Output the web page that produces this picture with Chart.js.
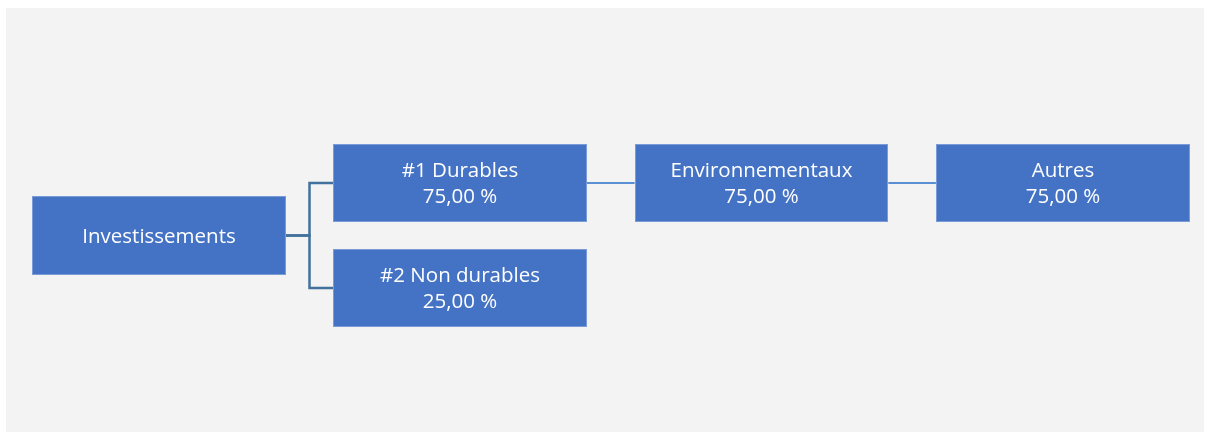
<!DOCTYPE html>
<html>
<head>
<meta charset="utf-8">
<script src="https://cdn.jsdelivr.net/npm/chart.js@4.4.1/dist/chart.umd.min.js"></script>
<style>
  html, body { margin: 0; padding: 0; background: #fff; }
  #wrap { position: relative; width: 1205px; height: 434px; }
</style>
</head>
<body>
<div id="wrap"><canvas id="chart"></canvas></div>
<script>
// tree data
const nodeLabels  = ['Investissements', '#1 Durables', '#2 Non durables', 'Environnementaux', 'Autres'];
const nodeValues  = [null, 75, 25, 75, 75];
const nodeParents = [-1, 0, 0, 1, 3];

const fmtPct = v => `${v.toFixed(2).replace('.', ',')} %`;

// layout in scale units: one column = 1 on x, one leaf row = 1 on y
const BOX_W = 0.842, BOX_H = 0.743;
const FONT = '20.5px "Open Sans"';

function layout(){
  const n = nodeLabels.length;
  const kids = nodeLabels.map(() => []);
  nodeParents.forEach((p, i) => { if (p >= 0) kids[p].push(i); });
  const col = new Array(n).fill(0), row = new Array(n).fill(0);
  let leaf = 0;
  (function walk(i, d){
    col[i] = d;
    if (!kids[i].length) { row[i] = leaf++; return; }
    kids[i].forEach(k => walk(k, d + 1));
    row[i] = kids[i].reduce((s, k) => s + row[k], 0) / kids[i].length;
  })(0, 0);
  return { col, row, kids };
}
const { col, row, kids } = layout();

// connectors as line datasets
const links = [];
nodeParents.forEach((p, i) => {
  if (p < 0) return;
  const x0 = col[p] + BOX_W, x1 = col[i];
  if (kids[p].length === 1) {
    links.push({ data: [{x: x0, y: row[p]}, {x: x1, y: row[i]}], borderColor: '#5b8fd3', borderWidth: 2 });
  } else {
    const mid = (x0 + x1) / 2;
    links.push({ data: [{x: x0, y: row[p]}, {x: mid, y: row[p]}, {x: mid, y: row[i]}, {x: x1, y: row[i]}],
      borderColor: '#41719c', borderWidth: 2.5 });
  }
});

const datasets = links.map(l => ({ ...l, showLine: true, pointRadius: 0, tension: 0, fill: false, borderJoinStyle: 'miter' }));
datasets.push({ label: 'nodes', data: nodeLabels.map((_, i) => ({x: col[i], y: row[i]})), pointRadius: 0, showLine: false });

const panelBg = {
  id: 'panelBg',
  beforeDraw(c){
    const g = c.ctx;
    g.save();
    g.fillStyle = '#fff'; g.fillRect(0, 0, c.width, c.height);
    g.fillStyle = '#f3f3f3'; g.fillRect(6, 8, 1198, 424);
    g.restore();
  }
};

const boxes = {
  id: 'boxes',
  afterDatasetsDraw(c){
    const g = c.ctx, xs = c.scales.x, ys = c.scales.y;
    g.save();
    nodeLabels.forEach((lab, i) => {
      const l = Math.round(xs.getPixelForValue(col[i])), r = Math.round(xs.getPixelForValue(col[i] + BOX_W));
      const t = Math.round(ys.getPixelForValue(row[i] - BOX_H / 2)), b = Math.round(ys.getPixelForValue(row[i] + BOX_H / 2));
      g.fillStyle = '#4472c4';
      g.fillRect(l, t, r - l, b - t);
      g.strokeStyle = '#7b9bd6'; g.lineWidth = 1;
      g.strokeRect(l + 0.5, t + 0.5, r - l - 1, b - t - 1);
      const cx = (l + r) / 2, cy = (t + b) / 2;
      g.fillStyle = '#fff'; g.font = FONT; g.textAlign = 'center'; g.textBaseline = 'alphabetic';
      if (nodeValues[i] == null) {
        g.fillText(lab, cx, cy + 7);
      } else {
        g.fillText(lab, cx, cy - 6);
        g.fillText(fmtPct(nodeValues[i]), cx, cy + 20);
      }
    });
    g.restore();
  }
};

new Chart(document.getElementById('chart'), {
  type: 'scatter',
  data: { datasets },
  options: {
    responsive: true,
    maintainAspectRatio: false,
    animation: false,
    layout: { padding: 0 },
    scales: {
      x: { type: 'linear', display: false, min: -32 / 301.3, max: (1205 - 32) / 301.3 },
      y: { type: 'linear', display: false, reverse: true, min: -183 / 105, max: (434 - 183) / 105 }
    },
    plugins: { legend: { display: false }, tooltip: { enabled: false } }
  },
  plugins: [panelBg, boxes]
});
</script>
</body>
</html>
